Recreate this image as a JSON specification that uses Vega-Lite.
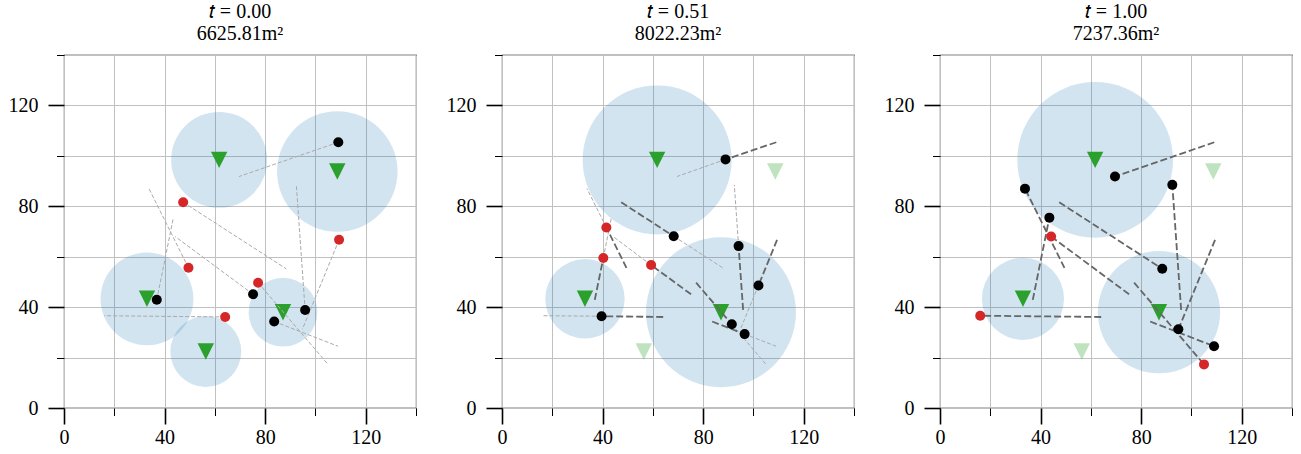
{
  "$schema": "https://vega.github.io/schema/vega-lite/v6.json",
  "background": "white",
  "padding": {"left": 6, "top": 0, "right": 0, "bottom": 0},
  "autosize": {"type": "pad"},
  "spacing": 26,
  "config": {
    "font": "Liberation Serif",
    "view": {"stroke": "black", "strokeWidth": 1.1},
    "axis": {"labelFont": "Liberation Serif", "labelColor": "black", "labelFontSize": 20, "labelFlush": false, "labelOverlap": false, "title": null, "domain": false, "grid": true, "gridColor": "#c0c0c0", "gridWidth": 1, "tickColor": "black"},
    "title": {"font": "Liberation Serif", "fontSize": 20, "fontWeight": "normal", "lineHeight": 22, "offset": 11, "color": "black"}
  },
  "datasets": {
    "sensors": [
      {"panel": 1, "id": 1, "x": 61.7, "y": 98.4, "r": 21.5, "status": "on"},
      {"panel": 1, "id": 2, "x": 108.7, "y": 93.8, "r": 27.0, "status": "on"},
      {"panel": 1, "id": 3, "x": 33.0, "y": 43.3, "r": 20.8, "status": "on"},
      {"panel": 1, "id": 4, "x": 56.4, "y": 22.4, "r": 15.9, "status": "on"},
      {"panel": 1, "id": 5, "x": 87.1, "y": 38.0, "r": 15.4, "status": "on"},
      {"panel": 2, "id": 1, "x": 61.7, "y": 98.4, "r": 33.4, "status": "on"},
      {"panel": 2, "id": 2, "x": 108.7, "y": 93.8, "r": 0, "status": "off"},
      {"panel": 2, "id": 3, "x": 33.0, "y": 43.3, "r": 17.8, "status": "on"},
      {"panel": 2, "id": 4, "x": 56.4, "y": 22.4, "r": 0, "status": "off"},
      {"panel": 2, "id": 5, "x": 87.1, "y": 38.0, "r": 33.6, "status": "on"},
      {"panel": 3, "id": 1, "x": 61.7, "y": 98.4, "r": 34.9, "status": "on"},
      {"panel": 3, "id": 2, "x": 108.7, "y": 93.8, "r": 0, "status": "off"},
      {"panel": 3, "id": 3, "x": 33.0, "y": 43.3, "r": 18.4, "status": "on"},
      {"panel": 3, "id": 4, "x": 56.4, "y": 22.4, "r": 0, "status": "off"},
      {"panel": 3, "id": 5, "x": 87.1, "y": 38.0, "r": 27.4, "status": "on"}
    ],
    "targets": [
      {"panel": 1, "id": 1, "x": 109.1, "y": 105.4, "covered": "yes"},
      {"panel": 1, "id": 2, "x": 49.5, "y": 55.6, "covered": "no"},
      {"panel": 1, "id": 3, "x": 47.4, "y": 81.6, "covered": "no"},
      {"panel": 1, "id": 4, "x": 36.9, "y": 42.9, "covered": "yes"},
      {"panel": 1, "id": 5, "x": 75.2, "y": 45.1, "covered": "yes"},
      {"panel": 1, "id": 6, "x": 64.1, "y": 36.1, "covered": "no"},
      {"panel": 1, "id": 7, "x": 95.9, "y": 38.9, "covered": "yes"},
      {"panel": 1, "id": 8, "x": 109.4, "y": 66.7, "covered": "no"},
      {"panel": 1, "id": 9, "x": 77.2, "y": 49.7, "covered": "no"},
      {"panel": 1, "id": 10, "x": 83.6, "y": 34.3, "covered": "yes"},
      {"panel": 2, "id": 1, "x": 88.9, "y": 98.6, "covered": "yes"},
      {"panel": 2, "id": 2, "x": 41.5, "y": 71.6, "covered": "no"},
      {"panel": 2, "id": 3, "x": 68.3, "y": 68.1, "covered": "yes"},
      {"panel": 2, "id": 4, "x": 40.3, "y": 59.5, "covered": "no"},
      {"panel": 2, "id": 5, "x": 59.3, "y": 56.7, "covered": "no"},
      {"panel": 2, "id": 6, "x": 39.6, "y": 36.4, "covered": "yes"},
      {"panel": 2, "id": 7, "x": 94.1, "y": 64.2, "covered": "yes"},
      {"panel": 2, "id": 8, "x": 102.0, "y": 48.6, "covered": "yes"},
      {"panel": 2, "id": 9, "x": 91.4, "y": 33.2, "covered": "yes"},
      {"panel": 2, "id": 10, "x": 96.5, "y": 29.3, "covered": "yes"},
      {"panel": 3, "id": 1, "x": 69.6, "y": 91.8, "covered": "yes"},
      {"panel": 3, "id": 2, "x": 33.8, "y": 87.0, "covered": "yes"},
      {"panel": 3, "id": 3, "x": 88.4, "y": 55.2, "covered": "yes"},
      {"panel": 3, "id": 4, "x": 43.5, "y": 75.5, "covered": "yes"},
      {"panel": 3, "id": 5, "x": 44.2, "y": 68.0, "covered": "no"},
      {"panel": 3, "id": 6, "x": 16.0, "y": 36.6, "covered": "no"},
      {"panel": 3, "id": 7, "x": 92.4, "y": 88.5, "covered": "yes"},
      {"panel": 3, "id": 8, "x": 94.8, "y": 31.2, "covered": "yes"},
      {"panel": 3, "id": 9, "x": 105.0, "y": 17.3, "covered": "no"},
      {"panel": 3, "id": 10, "x": 109.0, "y": 24.5, "covered": "yes"}
    ],
    "paths": [
      {"panel": 1, "id": 1, "part": "todo", "x": 109.1, "y": 105.4, "x2": 69.6, "y2": 91.8},
      {"panel": 1, "id": 2, "part": "todo", "x": 49.5, "y": 55.6, "x2": 33.8, "y2": 87.0},
      {"panel": 1, "id": 3, "part": "todo", "x": 47.4, "y": 81.6, "x2": 88.4, "y2": 55.2},
      {"panel": 1, "id": 4, "part": "todo", "x": 36.9, "y": 42.9, "x2": 43.5, "y2": 75.5},
      {"panel": 1, "id": 5, "part": "todo", "x": 75.2, "y": 45.1, "x2": 44.2, "y2": 68.0},
      {"panel": 1, "id": 6, "part": "todo", "x": 64.1, "y": 36.1, "x2": 16.0, "y2": 36.6},
      {"panel": 1, "id": 7, "part": "todo", "x": 95.9, "y": 38.9, "x2": 92.4, "y2": 88.5},
      {"panel": 1, "id": 8, "part": "todo", "x": 109.4, "y": 66.7, "x2": 94.8, "y2": 31.2},
      {"panel": 1, "id": 9, "part": "todo", "x": 77.2, "y": 49.7, "x2": 105.0, "y2": 17.3},
      {"panel": 1, "id": 10, "part": "todo", "x": 83.6, "y": 34.3, "x2": 109.0, "y2": 24.5},
      {"panel": 2, "id": 1, "part": "done", "x": 109.1, "y": 105.4, "x2": 88.9, "y2": 98.6},
      {"panel": 2, "id": 2, "part": "done", "x": 49.5, "y": 55.6, "x2": 41.5, "y2": 71.6},
      {"panel": 2, "id": 3, "part": "done", "x": 47.4, "y": 81.6, "x2": 68.3, "y2": 68.1},
      {"panel": 2, "id": 4, "part": "done", "x": 36.9, "y": 42.9, "x2": 40.3, "y2": 59.5},
      {"panel": 2, "id": 5, "part": "done", "x": 75.2, "y": 45.1, "x2": 59.3, "y2": 56.7},
      {"panel": 2, "id": 6, "part": "done", "x": 64.1, "y": 36.1, "x2": 39.6, "y2": 36.4},
      {"panel": 2, "id": 7, "part": "done", "x": 95.9, "y": 38.9, "x2": 94.1, "y2": 64.2},
      {"panel": 2, "id": 8, "part": "done", "x": 109.4, "y": 66.7, "x2": 102.0, "y2": 48.6},
      {"panel": 2, "id": 9, "part": "done", "x": 77.2, "y": 49.7, "x2": 91.4, "y2": 33.2},
      {"panel": 2, "id": 10, "part": "done", "x": 83.6, "y": 34.3, "x2": 96.5, "y2": 29.3},
      {"panel": 2, "id": 1, "part": "todo", "x": 88.9, "y": 98.6, "x2": 69.6, "y2": 91.8},
      {"panel": 2, "id": 2, "part": "todo", "x": 41.5, "y": 71.6, "x2": 33.8, "y2": 87.0},
      {"panel": 2, "id": 3, "part": "todo", "x": 68.3, "y": 68.1, "x2": 88.4, "y2": 55.2},
      {"panel": 2, "id": 4, "part": "todo", "x": 40.3, "y": 59.5, "x2": 43.5, "y2": 75.5},
      {"panel": 2, "id": 5, "part": "todo", "x": 59.3, "y": 56.7, "x2": 44.2, "y2": 68.0},
      {"panel": 2, "id": 6, "part": "todo", "x": 39.6, "y": 36.4, "x2": 16.0, "y2": 36.6},
      {"panel": 2, "id": 7, "part": "todo", "x": 94.1, "y": 64.2, "x2": 92.4, "y2": 88.5},
      {"panel": 2, "id": 8, "part": "todo", "x": 102.0, "y": 48.6, "x2": 94.8, "y2": 31.2},
      {"panel": 2, "id": 9, "part": "todo", "x": 91.4, "y": 33.2, "x2": 105.0, "y2": 17.3},
      {"panel": 2, "id": 10, "part": "todo", "x": 96.5, "y": 29.3, "x2": 109.0, "y2": 24.5},
      {"panel": 3, "id": 1, "part": "done", "x": 109.1, "y": 105.4, "x2": 69.6, "y2": 91.8},
      {"panel": 3, "id": 2, "part": "done", "x": 49.5, "y": 55.6, "x2": 33.8, "y2": 87.0},
      {"panel": 3, "id": 3, "part": "done", "x": 47.4, "y": 81.6, "x2": 88.4, "y2": 55.2},
      {"panel": 3, "id": 4, "part": "done", "x": 36.9, "y": 42.9, "x2": 43.5, "y2": 75.5},
      {"panel": 3, "id": 5, "part": "done", "x": 75.2, "y": 45.1, "x2": 44.2, "y2": 68.0},
      {"panel": 3, "id": 6, "part": "done", "x": 64.1, "y": 36.1, "x2": 16.0, "y2": 36.6},
      {"panel": 3, "id": 7, "part": "done", "x": 95.9, "y": 38.9, "x2": 92.4, "y2": 88.5},
      {"panel": 3, "id": 8, "part": "done", "x": 109.4, "y": 66.7, "x2": 94.8, "y2": 31.2},
      {"panel": 3, "id": 9, "part": "done", "x": 77.2, "y": 49.7, "x2": 105.0, "y2": 17.3},
      {"panel": 3, "id": 10, "part": "done", "x": 83.6, "y": 34.3, "x2": 109.0, "y2": 24.5}
    ]
  },
  "hconcat": [
    {
      "width": 352, "height": 353,
      "title": {"text": ["𝑡 = 0.00", "6625.81m²"]},
      "resolve": {"axis": {"x": "independent", "y": "independent"}},
      "layer": [
        {"data": {"name": "sensors"}, "transform": [{"filter": "datum.panel == 1 && datum.r > 0"}],
         "mark": {"type": "circle", "color": "#1f77b4", "opacity": 0.2},
         "encoding": {
           "x": {"field": "x", "type": "quantitative", "scale": {"domain": [0, 140], "nice": false}, "axis": null},
           "y": {"field": "y", "type": "quantitative", "scale": {"domain": [0, 140], "nice": false}, "axis": null},
           "size": {"field": "r", "type": "quantitative", "scale": {"type": "pow", "exponent": 2, "domain": [0, 40], "range": [0, 31845]}, "legend": null}}},
        {"data": {"name": "sensors"}, "transform": [{"filter": "datum.panel == 1"}],
         "mark": {"type": "point", "shape": "M-1,-1L1,-1L0,1Z", "filled": true, "color": "#2ca02c", "size": 270, "strokeWidth": 0},
         "encoding": {
           "x": {"field": "x", "type": "quantitative", "axis": {"orient": "bottom", "values": [20, 60, 100, 140], "grid": true, "tickSize": 7.5, "tickWidth": 1, "labels": false}},
           "y": {"field": "y", "type": "quantitative", "axis": {"orient": "left", "values": [20, 60, 100, 140], "grid": true, "tickSize": 7.5, "tickWidth": 1, "labels": false}},
           "opacity": {"field": "status", "type": "nominal", "scale": {"domain": ["on", "off"], "range": [1, 0.3]}, "legend": null}}},
        {"data": {"name": "paths"}, "transform": [{"filter": "datum.panel == 1 && datum.part == 'todo'"}],
         "mark": {"type": "rule", "color": "#aaaaaa", "strokeWidth": 1, "strokeDash": [4, 2]},
         "encoding": {
           "x": {"field": "x", "type": "quantitative", "axis": null}, "y": {"field": "y", "type": "quantitative", "axis": null},
           "x2": {"field": "x2"}, "y2": {"field": "y2"}}},
        {"data": {"name": "paths"}, "transform": [{"filter": "datum.panel == 1 && datum.part == 'done'"}],
         "mark": {"type": "rule", "color": "#666666", "strokeWidth": 1.8, "strokeDash": [7, 3]},
         "encoding": {
           "x": {"field": "x", "type": "quantitative", "axis": null}, "y": {"field": "y", "type": "quantitative", "axis": null},
           "x2": {"field": "x2"}, "y2": {"field": "y2"}}},
        {"data": {"name": "targets"}, "transform": [{"filter": "datum.panel == 1"}],
         "mark": {"type": "circle", "size": 100, "opacity": 1},
         "encoding": {
           "x": {"field": "x", "type": "quantitative", "axis": {"orient": "bottom", "values": [0, 40, 80, 120], "grid": true, "tickSize": 16, "tickWidth": 1.6, "labelPadding": 3}},
           "y": {"field": "y", "type": "quantitative", "axis": {"orient": "left", "values": [0, 40, 80, 120], "grid": true, "tickSize": 16, "tickWidth": 1.6, "labelPadding": 10, "minExtent": 57, "maxExtent": 57}},
           "color": {"field": "covered", "type": "nominal", "scale": {"domain": ["yes", "no"], "range": ["#000000", "#d62728"]}, "legend": null}}}
      ]
    },
    {
      "width": 352, "height": 353,
      "title": {"text": ["𝑡 = 0.51", "8022.23m²"]},
      "resolve": {"axis": {"x": "independent", "y": "independent"}},
      "layer": [
        {"data": {"name": "sensors"}, "transform": [{"filter": "datum.panel == 2 && datum.r > 0"}],
         "mark": {"type": "circle", "color": "#1f77b4", "opacity": 0.2},
         "encoding": {
           "x": {"field": "x", "type": "quantitative", "scale": {"domain": [0, 140], "nice": false}, "axis": null},
           "y": {"field": "y", "type": "quantitative", "scale": {"domain": [0, 140], "nice": false}, "axis": null},
           "size": {"field": "r", "type": "quantitative", "scale": {"type": "pow", "exponent": 2, "domain": [0, 40], "range": [0, 31845]}, "legend": null}}},
        {"data": {"name": "sensors"}, "transform": [{"filter": "datum.panel == 2"}],
         "mark": {"type": "point", "shape": "M-1,-1L1,-1L0,1Z", "filled": true, "color": "#2ca02c", "size": 270, "strokeWidth": 0},
         "encoding": {
           "x": {"field": "x", "type": "quantitative", "axis": {"orient": "bottom", "values": [20, 60, 100, 140], "grid": true, "tickSize": 7.5, "tickWidth": 1, "labels": false}},
           "y": {"field": "y", "type": "quantitative", "axis": {"orient": "left", "values": [20, 60, 100, 140], "grid": true, "tickSize": 7.5, "tickWidth": 1, "labels": false}},
           "opacity": {"field": "status", "type": "nominal", "scale": {"domain": ["on", "off"], "range": [1, 0.3]}, "legend": null}}},
        {"data": {"name": "paths"}, "transform": [{"filter": "datum.panel == 2 && datum.part == 'todo'"}],
         "mark": {"type": "rule", "color": "#aaaaaa", "strokeWidth": 1, "strokeDash": [4, 2]},
         "encoding": {
           "x": {"field": "x", "type": "quantitative", "axis": null}, "y": {"field": "y", "type": "quantitative", "axis": null},
           "x2": {"field": "x2"}, "y2": {"field": "y2"}}},
        {"data": {"name": "paths"}, "transform": [{"filter": "datum.panel == 2 && datum.part == 'done'"}],
         "mark": {"type": "rule", "color": "#666666", "strokeWidth": 1.8, "strokeDash": [7, 3]},
         "encoding": {
           "x": {"field": "x", "type": "quantitative", "axis": null}, "y": {"field": "y", "type": "quantitative", "axis": null},
           "x2": {"field": "x2"}, "y2": {"field": "y2"}}},
        {"data": {"name": "targets"}, "transform": [{"filter": "datum.panel == 2"}],
         "mark": {"type": "circle", "size": 100, "opacity": 1},
         "encoding": {
           "x": {"field": "x", "type": "quantitative", "axis": {"orient": "bottom", "values": [0, 40, 80, 120], "grid": true, "tickSize": 16, "tickWidth": 1.6, "labelPadding": 3}},
           "y": {"field": "y", "type": "quantitative", "axis": {"orient": "left", "values": [0, 40, 80, 120], "grid": true, "tickSize": 16, "tickWidth": 1.6, "labelPadding": 10, "minExtent": 57, "maxExtent": 57}},
           "color": {"field": "covered", "type": "nominal", "scale": {"domain": ["yes", "no"], "range": ["#000000", "#d62728"]}, "legend": null}}}
      ]
    },
    {
      "width": 352, "height": 353,
      "title": {"text": ["𝑡 = 1.00", "7237.36m²"]},
      "resolve": {"axis": {"x": "independent", "y": "independent"}},
      "layer": [
        {"data": {"name": "sensors"}, "transform": [{"filter": "datum.panel == 3 && datum.r > 0"}],
         "mark": {"type": "circle", "color": "#1f77b4", "opacity": 0.2},
         "encoding": {
           "x": {"field": "x", "type": "quantitative", "scale": {"domain": [0, 140], "nice": false}, "axis": null},
           "y": {"field": "y", "type": "quantitative", "scale": {"domain": [0, 140], "nice": false}, "axis": null},
           "size": {"field": "r", "type": "quantitative", "scale": {"type": "pow", "exponent": 2, "domain": [0, 40], "range": [0, 31845]}, "legend": null}}},
        {"data": {"name": "sensors"}, "transform": [{"filter": "datum.panel == 3"}],
         "mark": {"type": "point", "shape": "M-1,-1L1,-1L0,1Z", "filled": true, "color": "#2ca02c", "size": 270, "strokeWidth": 0},
         "encoding": {
           "x": {"field": "x", "type": "quantitative", "axis": {"orient": "bottom", "values": [20, 60, 100, 140], "grid": true, "tickSize": 7.5, "tickWidth": 1, "labels": false}},
           "y": {"field": "y", "type": "quantitative", "axis": {"orient": "left", "values": [20, 60, 100, 140], "grid": true, "tickSize": 7.5, "tickWidth": 1, "labels": false}},
           "opacity": {"field": "status", "type": "nominal", "scale": {"domain": ["on", "off"], "range": [1, 0.3]}, "legend": null}}},
        {"data": {"name": "paths"}, "transform": [{"filter": "datum.panel == 3 && datum.part == 'todo'"}],
         "mark": {"type": "rule", "color": "#aaaaaa", "strokeWidth": 1, "strokeDash": [4, 2]},
         "encoding": {
           "x": {"field": "x", "type": "quantitative", "axis": null}, "y": {"field": "y", "type": "quantitative", "axis": null},
           "x2": {"field": "x2"}, "y2": {"field": "y2"}}},
        {"data": {"name": "paths"}, "transform": [{"filter": "datum.panel == 3 && datum.part == 'done'"}],
         "mark": {"type": "rule", "color": "#666666", "strokeWidth": 1.8, "strokeDash": [7, 3]},
         "encoding": {
           "x": {"field": "x", "type": "quantitative", "axis": null}, "y": {"field": "y", "type": "quantitative", "axis": null},
           "x2": {"field": "x2"}, "y2": {"field": "y2"}}},
        {"data": {"name": "targets"}, "transform": [{"filter": "datum.panel == 3"}],
         "mark": {"type": "circle", "size": 100, "opacity": 1},
         "encoding": {
           "x": {"field": "x", "type": "quantitative", "axis": {"orient": "bottom", "values": [0, 40, 80, 120], "grid": true, "tickSize": 16, "tickWidth": 1.6, "labelPadding": 3}},
           "y": {"field": "y", "type": "quantitative", "axis": {"orient": "left", "values": [0, 40, 80, 120], "grid": true, "tickSize": 16, "tickWidth": 1.6, "labelPadding": 10, "minExtent": 57, "maxExtent": 57}},
           "color": {"field": "covered", "type": "nominal", "scale": {"domain": ["yes", "no"], "range": ["#000000", "#d62728"]}, "legend": null}}}
      ]
    }
  ]
}
